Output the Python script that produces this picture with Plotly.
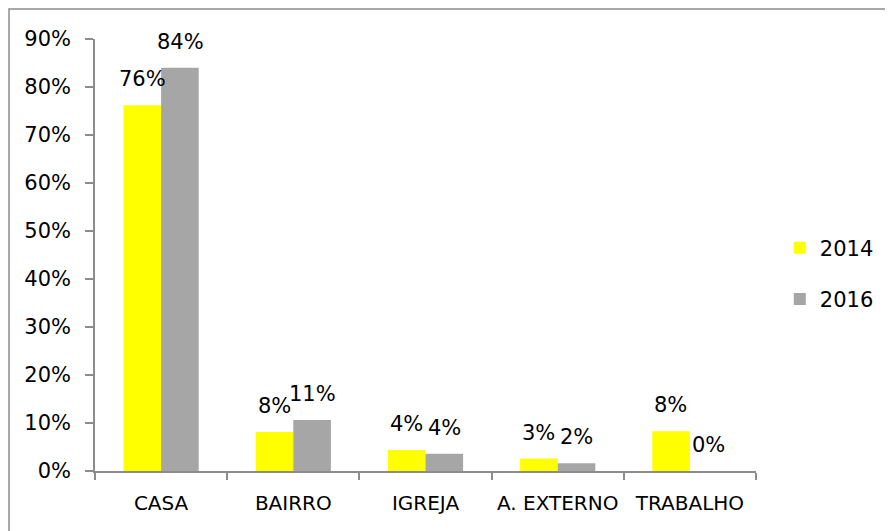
import plotly.graph_objects as go

categorias = ["CASA", "BAIRRO", "IGREJA", "A. EXTERNO", "TRABALHO"]
anos = ["2014", "2016"]
valores_2014 = [76.2, 8.1, 4.4, 2.6, 8.3]
valores_2016 = [84.0, 10.6, 3.6, 1.6, 0.0]
cores = ["#FFFF00", "#A6A6A6"]

fonte = dict(family="DejaVu Sans", size=21, color="#000000")
fonte_x = dict(family="DejaVu Sans", size=20, color="#000000")

fig = go.Figure()
for ano, vals, cor in zip(anos, [valores_2014, valores_2016], cores):
    fig.add_trace(go.Bar(x=categorias, y=vals, name=ano, marker_color=cor,
                         marker_line_width=0, legendgroup=ano, hoverinfo="skip"))

# rotulos de dados acima de cada barra (arredondados como no Excel)
for shift, vals in zip([-19, 19], [valores_2014, valores_2016]):
    for cat, v in zip(categorias, vals):
        fig.add_annotation(x=cat, y=v, xref="x", yref="y", text=f"{int(v + 0.5)}%",
                           showarrow=False, xshift=shift, yshift=26,
                           xanchor="center", yanchor="middle", font=fonte)

# moldura do grafico
fig.add_shape(type="rect", xref="paper", yref="paper", x0=-0.1301, x1=2, y0=-1, y1=1.0694,
              line=dict(color="#8C8C8C", width=1.5), layer="below")

# margens descontam os 8px de margem do body da pagina
fig.update_layout(
    width=893, height=531,
    margin=dict(l=87, r=145, t=31, b=68),
    paper_bgcolor="white", plot_bgcolor="white",
    font=fonte,
    barmode="group", bargap=0.431, bargroupgap=0,
    showlegend=True,
    legend=dict(x=1.036, y=0.457, xanchor="left", yanchor="middle",
                traceorder="grouped", tracegroupgap=21, font=fonte,
                bgcolor="rgba(0,0,0,0)"),
)
fig.update_xaxes(showline=True, linecolor="#8C8C8C", linewidth=1.5,
                 ticks="outside", ticklen=7, tickcolor="#8C8C8C", tickwidth=1.5,
                 tickson="boundaries", showgrid=False, ticklabelstandoff=13,
                 tickangle=0, automargin=False, tickfont=fonte_x)
fig.update_yaxes(range=[0, 90], dtick=10, ticksuffix="%", showgrid=False,
                 showline=True, linecolor="#8C8C8C", linewidth=1.5,
                 ticks="outside", ticklen=8, tickcolor="#8C8C8C", tickwidth=1.5,
                 zeroline=False, ticklabelstandoff=10, automargin=False)

fig.write_html("out.html")
